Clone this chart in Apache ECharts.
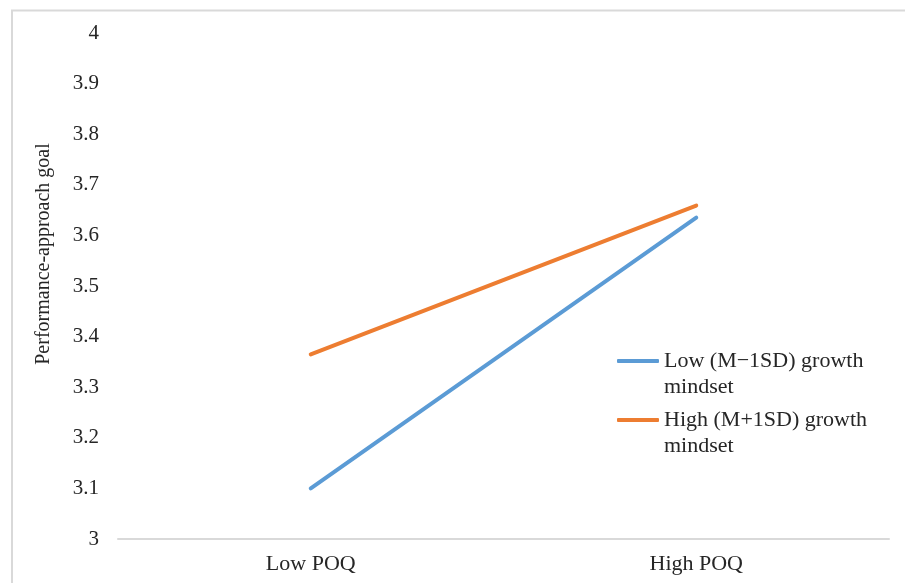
<!DOCTYPE html>
<html>
<head>
<meta charset="utf-8">
<script src="https://cdn.jsdelivr.net/npm/echarts@6/dist/echarts.min.js"></script>
<style>
html,body{margin:0;padding:0;background:#fff;}
#chart{width:905px;height:583px;}
</style>
</head>
<body>
<div id="chart"></div>
<script>
var categories = ['Low POQ', 'High POQ'];
var seriesNames = ['Low (M\u22121SD) growth\nmindset', 'High (M+1SD) growth\nmindset'];
var lowGrowth = [3.10, 3.635];
var highGrowth = [3.365, 3.659];
var yMin = 3, yMax = 4, yStep = 0.1;

var font = 'Liberation Serif';
var chart = echarts.init(document.getElementById('chart'));
chart.setOption({
  backgroundColor: '#fff',
  animation: false,
  graphic: [{
    type: 'rect',
    shape: {x: 12, y: 10.5, width: 1000, height: 1000},
    style: {fill: 'none', stroke: '#d9d9d9', lineWidth: 2},
    silent: true
  }],
  grid: {left: 118, right: 16, top: 33, bottom: 44, containLabel: false},
  legend: {
    orient: 'vertical',
    left: 617,
    top: 322,
    padding: 0,
    itemGap: -19,
    itemWidth: 42,
    itemHeight: 4,
    icon: 'roundRect',
    formatter: function (name) { return '\n' + name; },
    textStyle: {
      fontFamily: font, fontSize: 22, color: '#262626', lineHeight: 26
    },
    data: seriesNames
  },
  xAxis: {
    type: 'category',
    data: categories,
    boundaryGap: true,
    axisLine: {lineStyle: {color: '#d9d9d9', width: 2}},
    axisTick: {show: false},
    axisLabel: {fontFamily: font, fontSize: 22, color: '#262626', margin: 14}
  },
  yAxis: {
    type: 'value',
    min: yMin, max: yMax, interval: yStep,
    name: 'Performance-approach goal',
    nameLocation: 'middle',
    nameGap: 64,
    nameTextStyle: {fontFamily: font, fontSize: 20, color: '#262626', padding: [0, 0, 0, 64]},
    axisLine: {show: false},
    axisTick: {show: false},
    splitLine: {show: false},
    axisLabel: {
      fontFamily: font, fontSize: 21, color: '#262626', margin: 19,
      formatter: function (v) { return String(Math.round(v * 10) / 10); }
    }
  },
  series: [{
    name: seriesNames[0],
    type: 'line',
    data: lowGrowth,
    showSymbol: false,
    symbol: 'none',
    lineStyle: {color: '#5b9bd5', width: 4, cap: 'round'},
    itemStyle: {color: '#5b9bd5'}
  }, {
    name: seriesNames[1],
    type: 'line',
    data: highGrowth,
    showSymbol: false,
    symbol: 'none',
    lineStyle: {color: '#ed7d31', width: 4, cap: 'round'},
    itemStyle: {color: '#ed7d31'}
  }]
});
</script>
</body>
</html>
